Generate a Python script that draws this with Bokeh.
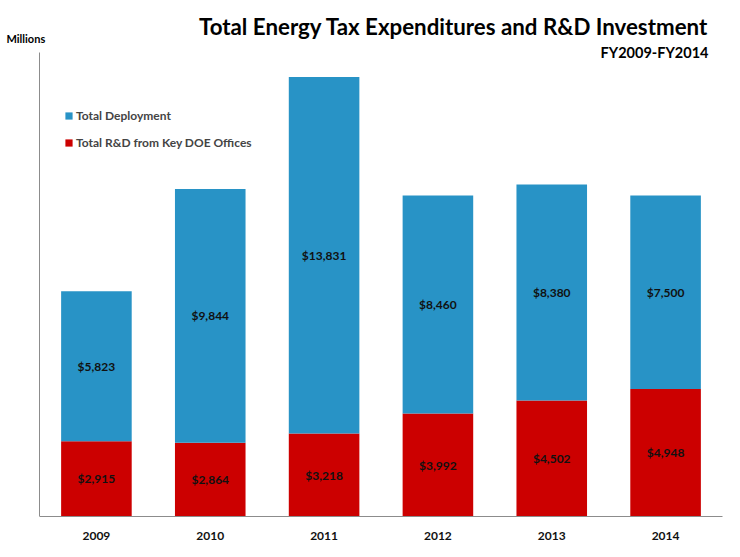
from bokeh.plotting import figure
from bokeh.models import (ColumnDataSource, Range1d, Label, Legend, LegendItem,
                          FixedTicker, LinearAxis)
from bokeh.core.properties import value
from bokeh.embed import file_html
from bokeh.resources import INLINE

years = ["2009", "2010", "2011", "2012", "2013", "2014"]
rnd = [2915, 2864, 3218, 3992, 4502, 4948]
deployment = [5823, 9844, 13831, 8460, 8380, 7500]

title_text = "Total Energy Tax Expenditures and R&D Investment"
subtitle_text = "FY2009-FY2014"
unit_text = "Millions"
series_names = ["Total R&D from Key DOE Offices", "Total Deployment"]
colors = ["#CC0000", "#2893C6"]

FONT = "Lato"

xpos = [int(y) for y in years]
src = ColumnDataSource(dict(
    x=xpos,
    rnd=rnd,
    deployment=deployment,
    rnd_mid=[r / 2 for r in rnd],
    dep_mid=[r + d / 2 for r, d in zip(rnd, deployment)],
    rnd_lab=[f"${v:,}" for v in rnd],
    dep_lab=[f"${v:,}" for v in deployment],
))

x_lo, x_hi = xpos[0] - 0.5, xpos[-1] + 0.5
p = figure(width=740, height=557,
           x_range=Range1d(x_lo - 0.3426, x_hi), y_range=Range1d(0, 20017),
           output_backend="svg", toolbar_location=None,
           min_border_left=0, min_border_right=18, min_border_top=0, min_border_bottom=41,
           y_axis_location=None)

renderers = p.vbar_stack(["rnd", "deployment"], x="x", width=0.62, source=src,
                         color=colors, line_color=None)

p.text(x="x", y="rnd_mid", text="rnd_lab", source=src, text_align="center",
       text_baseline="middle", text_font=value(FONT), text_font_style="bold",
       text_font_size="12px", text_color="#111111")
p.text(x="x", y="dep_mid", text="dep_lab", source=src, text_align="center",
       text_baseline="middle", text_font=value(FONT), text_font_style="bold",
       text_font_size="12px", text_color="#111111")

yax = LinearAxis(ticker=FixedTicker(ticks=[]), fixed_location=x_lo, bounds=(0, 18000),
                 axis_line_color="#8C8C8C", major_tick_line_color=None,
                 minor_tick_line_color=None, major_label_text_font_size="0px")
p.add_layout(yax, "left")

xa = p.xaxis[0]
xa.ticker = FixedTicker(ticks=xpos)
xa.major_label_overrides = {x: y for x, y in zip(xpos, years)}
xa.bounds = (x_lo, x_hi)
xa.axis_line_color = "#8C8C8C"
xa.major_tick_line_color = None
xa.minor_tick_line_color = None
xa.major_label_text_font = FONT
xa.major_label_text_font_style = "bold"
xa.major_label_text_font_size = "12px"
xa.major_label_text_color = "#111111"
xa.major_label_standoff = 9

p.xgrid.grid_line_color = None
p.ygrid.grid_line_color = None
p.outline_line_color = None

p.add_layout(Label(x=708, y=490, x_units="screen", y_units="screen", text=title_text,
                   text_align="right", text_baseline="middle", text_font=FONT,
                   text_font_style="bold", text_font_size="22.3px", text_color="#000000"))
p.add_layout(Label(x=708, y=464, x_units="screen", y_units="screen", text=subtitle_text,
                   text_align="right", text_baseline="middle", text_font=FONT,
                   text_font_style="bold", text_font_size="14.5px", text_color="#000000"))
p.add_layout(Label(x=6, y=478, x_units="screen", y_units="screen", text=unit_text,
                   text_align="left", text_baseline="middle", text_font=FONT,
                   text_font_style="bold", text_font_size="11px", text_color="#000000"))

legend = Legend(items=[LegendItem(label=series_names[1], renderers=[renderers[1]]),
                       LegendItem(label=series_names[0], renderers=[renderers[0]])],
                location=(64, 366), orientation="vertical",
                glyph_width=9, glyph_height=9, label_standoff=3, spacing=12,
                padding=0, margin=0, border_line_color=None, background_fill_alpha=0,
                label_text_font=FONT, label_text_font_style="bold",
                label_text_font_size="12px", label_height=9)
p.add_layout(legend)

open("out.html", "w").write(file_html(p, INLINE))
